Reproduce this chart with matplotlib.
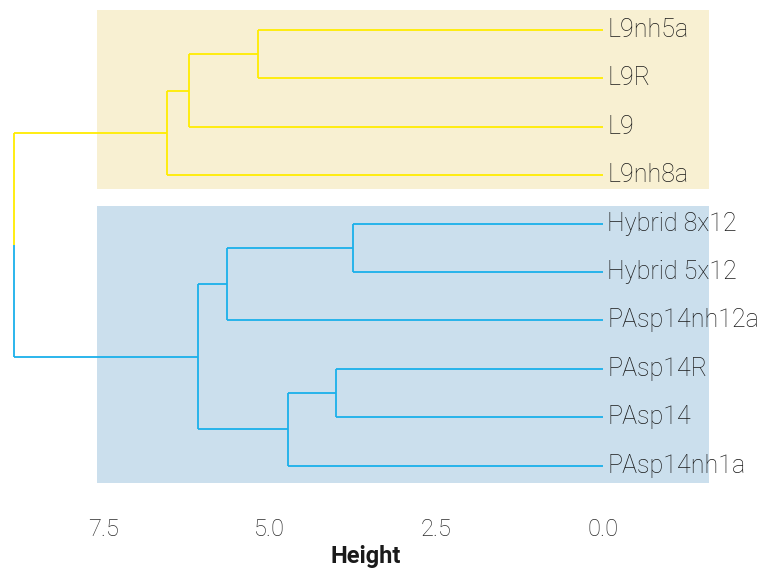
import matplotlib
matplotlib.use("Agg")
import matplotlib.pyplot as plt
from matplotlib.patches import Rectangle

plt.rcParams['font.family'] = ['Roboto', 'DejaVu Sans']

# leaves, top to bottom
labels = ['L9nh5a', 'L9R', 'L9', 'L9nh8a',
          'Hybrid 8x12', 'Hybrid 5x12', 'PAsp14nh12a',
          'PAsp14R', 'PAsp14', 'PAsp14nh1a']
leaf_cluster = [0, 0, 0, 0, 1, 1, 1, 1, 1, 1]

# merges: (left node, right node, height); leaves are 0..9, new nodes 10..
merges = [
    (0, 1, 5.18),    # 10
    (10, 2, 6.22),   # 11
    (11, 3, 6.54),   # 12
    (4, 5, 3.75),    # 13
    (13, 6, 5.64),   # 14
    (7, 8, 4.01),    # 15
    (15, 9, 4.72),   # 16
    (14, 16, 6.08),  # 17
    (12, 17, 8.84),  # 18 root
]

line_cols = ['#FFEC00', '#1AB0EA']
rect_cols = ['#F8F0D2', '#CBDFED']

fig = plt.figure(figsize=(7.64, 5.69), dpi=100)
ax = fig.add_axes([0, 1 - 500 / 569, 1, 500 / 569])

# node positions
ypos = {i: i + 1 for i in range(len(labels))}
hgt = {i: 0.0 for i in range(len(labels))}
clus = {i: leaf_cluster[i] for i in range(len(labels))}
for k, (a, b, h) in enumerate(merges):
    n = len(labels) + k
    ypos[n] = (ypos[a] + ypos[b]) / 2
    hgt[n] = h
    clus[n] = clus[a] if clus[a] == clus[b] else None

# cluster rectangles
pads = [(0.41, 0.28), (0.36, 0.36)]
for c in range(2):
    idx = [i for i in range(len(labels)) if leaf_cluster[i] == c]
    top = ypos[idx[0]] - pads[c][0]
    bot = ypos[idx[-1]] + pads[c][1]
    ax.add_patch(Rectangle((7.6, top), -7.6 - 1.6, bot - top,
                           facecolor=rect_cols[c], edgecolor='none', zorder=0))

# branches
for k, (a, b, h) in enumerate(merges):
    n = len(labels) + k
    for child in (a, b):
        col = line_cols[clus[child]]
        ax.plot([h, h], [ypos[n], ypos[child]], color=col, lw=1.3,
                solid_capstyle='butt', zorder=2)
        ax.plot([h, hgt[child]], [ypos[child], ypos[child]], color=col,
                lw=1.3, solid_capstyle='butt', zorder=2)

for i, lab in enumerate(labels):
    ax.text(-0.07, ypos[i], lab, ha='left', va='center', fontsize=18,
            fontweight='light', color='#1a1a1a', zorder=3)

ax.set_xlim(9.05, -2.42)
ax.set_ylim(1 + 470 / 48.4, 1 - 30 / 48.4)
for s in ax.spines.values():
    s.set_visible(False)
ax.set_yticks([])
ax.set_xticks([7.5, 5.0, 2.5, 0.0])
ax.set_xticklabels(['7.5', '5.0', '2.5', '0.0'], fontsize=17,
                   fontweight='light', color='#2a2a2a')
ax.tick_params(axis='x', length=0, pad=13)
ax.set_xlabel('Height', fontsize=17, fontweight='bold', color='#1a1a1a')
ax.xaxis.set_label_coords(366 / 764, -45 / 500)

fig.savefig('out.png', dpi=100)
